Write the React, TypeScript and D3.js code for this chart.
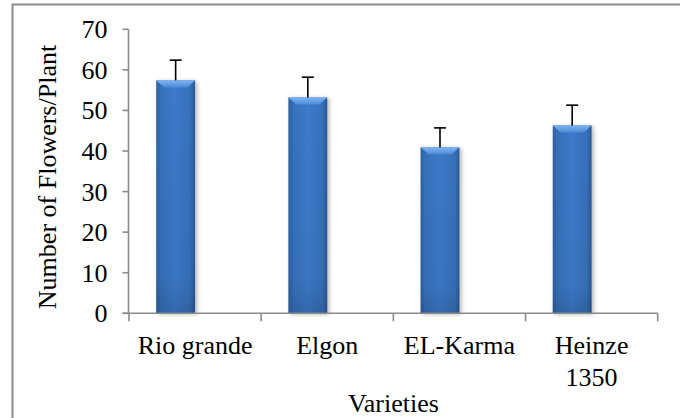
import React from "react";
import * as d3 from "d3";

const categories: string[][] = [["Rio grande"], ["Elgon"], ["EL-Karma"], ["Heinze", "1350"]];
const means: number[] = [57.4, 53.2, 40.9, 46.3];
const errors: number[] = [5.0, 5.0, 4.8, 5.0];
const yTicks: number[] = [0, 10, 20, 30, 40, 50, 60, 70];
const seriesSlots: string[] = ["mean", "empty"];
const yTitle = "Number of Flowers/Plant";
const xTitle = "Varieties";

const W = 680;
const H = 418;
const FONT = '"Liberation Serif", "DejaVu Serif", serif';

export default function App() {
  const keys = categories.map((c) => c.join(" "));
  const x = d3.scaleBand<string>().domain(keys).range([129, 657.7]).paddingInner(0).paddingOuter(0);
  const sub = d3.scaleBand<string>().domain(seriesSlots).range([0, x.bandwidth()]).paddingOuter(0.7).paddingInner(0);
  const y = d3.scaleLinear().domain([0, 70]).range([313.3, 29.3]);
  const axisColor = "#8a8a8a";
  const bw = sub.bandwidth();
  const txt = { fontFamily: FONT, fontSize: "26px", fill: "#000" } as React.CSSProperties;

  return (
    <svg width={W} height={H} style={{ position: "absolute", left: 0, top: 0 }}>
      <defs>
        <linearGradient id="body" x1="0" x2="1" y1="0" y2="0">
          <stop offset="0" stopColor="#2d5f9f" />
          <stop offset="0.12" stopColor="#3670b9" />
          <stop offset="0.5" stopColor="#3c7acb" />
          <stop offset="0.88" stopColor="#3670b9" />
          <stop offset="1" stopColor="#2a5994" />
        </linearGradient>
        <linearGradient id="bodyV" x1="0" x2="0" y1="0" y2="1">
          <stop offset="0" stopColor="#000" stopOpacity="0" />
          <stop offset="0.85" stopColor="#000" stopOpacity="0.04" />
          <stop offset="1" stopColor="#000" stopOpacity="0.14" />
        </linearGradient>
        <linearGradient id="bevel" x1="0" x2="0" y1="0" y2="1">
          <stop offset="0" stopColor="#7db4f3" />
          <stop offset="1" stopColor="#4d8ad6" />
        </linearGradient>
        <filter id="shadow" x="-20%" y="-5%" width="150%" height="115%">
          <feGaussianBlur in="SourceAlpha" stdDeviation="2" />
          <feOffset dx="2" dy="1" result="b" />
          <feComponentTransfer>
            <feFuncA type="linear" slope="0.3" />
          </feComponentTransfer>
          <feMerge>
            <feMergeNode />
            <feMergeNode in="SourceGraphic" />
          </feMerge>
        </filter>
      </defs>
      <rect x={0} y={0} width={W} height={H} fill="#fff" />
      <rect x={12.5} y={4.5} width={W + 20} height={H + 20} fill="none" stroke="#8c8c8c" strokeWidth={2} />

      {means.map((v, i) => {
        const x0 = (x(keys[i]) as number) + (sub("mean") as number);
        const top = y(v);
        const bottom = y(0);
        const inset = Math.min(8, bw / 4);
        const bev = 7;
        return (
          <g key={keys[i]}>
            <g filter="url(#shadow)">
              <rect x={x0} y={top} width={bw} height={bottom - top} fill="url(#body)" />
            </g>
            <rect x={x0} y={top} width={bw} height={bottom - top} fill="url(#bodyV)" />
            <polygon
              points={`${x0},${top} ${x0 + bw},${top} ${x0 + bw - inset},${top + bev} ${x0 + inset},${top + bev}`}
              fill="url(#bevel)"
            />
          </g>
        );
      })}

      {means.map((v, i) => {
        const cx = (x(keys[i]) as number) + (sub("mean") as number) + bw / 2;
        const t = y(v + errors[i]);
        return (
          <g key={"e" + i} stroke="#000" strokeWidth={1.6}>
            <line x1={cx} x2={cx} y1={y(v)} y2={t} />
            <line x1={cx - 6} x2={cx + 6} y1={t} y2={t} />
          </g>
        );
      })}

      <line x1={128.5} x2={128.5} y1={y(70)} y2={y(0)} stroke={axisColor} strokeWidth={1.6} />
      {yTicks.map((t) => (
        <g key={t}>
          <line x1={122.5} x2={128.5} y1={y(t)} y2={y(t)} stroke={axisColor} strokeWidth={1.6} />
          <text x={107.5} y={y(t) + 9} textAnchor="end" style={txt}>
            {t}
          </text>
        </g>
      ))}

      <line x1={122.5} x2={657.7} y1={y(0)} y2={y(0)} stroke={axisColor} strokeWidth={1.6} />
      {[...keys.map((k) => x(k) as number), 657.7].map((px, i) => (
        <line key={"xt" + i} x1={px} x2={px} y1={y(0)} y2={y(0) + 8} stroke={axisColor} strokeWidth={1.6} />
      ))}
      {categories.map((lines, i) => {
        const cx = (x(keys[i]) as number) + x.bandwidth() / 2;
        return (
          <text key={"xl" + i} x={cx} y={353.5} textAnchor="middle" style={txt}>
            {lines.map((ln, j) => (
              <tspan key={j} x={cx} dy={j === 0 ? 0 : 32.5}>
                {ln}
              </tspan>
            ))}
          </text>
        );
      })}

      <text x={393.4} y={412} textAnchor="middle" style={txt}>
        {xTitle}
      </text>
      <text transform={`translate(56,177) rotate(-90)`} textAnchor="middle" style={txt}>
        {yTitle}
      </text>
    </svg>
  );
}
